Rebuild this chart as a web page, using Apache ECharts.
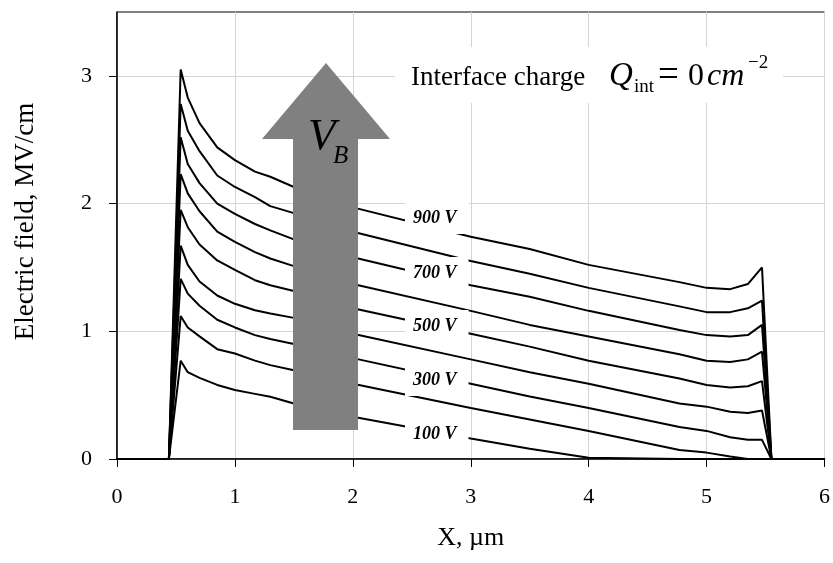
<!DOCTYPE html>
<html>
<head>
<meta charset="utf-8">
<script src="https://cdn.jsdelivr.net/npm/echarts@6/dist/echarts.min.js"></script>
<style>
  html, body { margin: 0; padding: 0; background: #fff; }
  #main { width: 833px; height: 563px; }
</style>
</head>
<body>
<div id="main"></div>
<script>
// x positions (µm) where the curves were read
var xPos = [0, 0.44, 0.54, 0.6, 0.7, 0.85, 1.0, 1.17, 1.3, 1.5, 2.0, 3.0, 3.5, 4.0, 4.77, 5.0, 5.2, 5.35, 5.47, 5.55, 6];

// electric field (MV/cm) for each bias voltage
var e100 = [0, 0, 0.77, 0.68, 0.635, 0.58, 0.54, 0.51, 0.487, 0.435, 0.33, 0.16, 0.08, 0.01, 0, 0, 0, 0, 0, 0, 0];
var e200 = [0, 0, 1.12, 1.03, 0.96, 0.86, 0.826, 0.77, 0.735, 0.695, 0.59, 0.40, 0.31, 0.22, 0.07, 0.05, 0.02, 0, 0, 0, 0];
var e300 = [0, 0, 1.41, 1.295, 1.20, 1.09, 1.03, 0.97, 0.94, 0.90, 0.79, 0.59, 0.49, 0.40, 0.25, 0.22, 0.17, 0.15, 0.15, 0, 0];
var e400 = [0, 0, 1.67, 1.52, 1.39, 1.28, 1.215, 1.165, 1.14, 1.105, 0.98, 0.78, 0.68, 0.59, 0.435, 0.41, 0.37, 0.36, 0.38, 0, 0];
var e500 = [0, 0, 1.95, 1.815, 1.68, 1.555, 1.48, 1.40, 1.36, 1.315, 1.18, 0.98, 0.88, 0.77, 0.63, 0.58, 0.56, 0.57, 0.61, 0, 0];
var e600 = [0, 0, 2.23, 2.08, 1.94, 1.78, 1.70, 1.62, 1.57, 1.51, 1.37, 1.16, 1.05, 0.96, 0.82, 0.77, 0.76, 0.78, 0.84, 0, 0];
var e700 = [0, 0, 2.52, 2.31, 2.16, 2.00, 1.92, 1.84, 1.79, 1.72, 1.58, 1.36, 1.27, 1.16, 1.01, 0.97, 0.96, 0.97, 1.05, 0, 0];
var e800 = [0, 0, 2.78, 2.57, 2.41, 2.22, 2.13, 2.05, 1.98, 1.925, 1.78, 1.55, 1.45, 1.34, 1.195, 1.15, 1.15, 1.18, 1.24, 0, 0];
var e900 = [0, 0, 3.05, 2.83, 2.63, 2.44, 2.34, 2.25, 2.21, 2.13, 1.97, 1.74, 1.645, 1.52, 1.385, 1.34, 1.33, 1.37, 1.50, 0, 0];

var voltages = ['100 V', '200 V', '300 V', '400 V', '500 V', '600 V', '700 V', '800 V', '900 V'];
var fields = [e100, e200, e300, e400, e500, e600, e700, e800, e900];

var yTicks = [0, 1, 2, 3];
var curveLabels = ['900 V', '700 V', '500 V', '300 V', '100 V'];

var serif = '"Liberation Serif", "Times New Roman", serif';

var series = fields.map(function (ys, k) {
  return {
    name: voltages[k],
    type: 'line',
    showSymbol: false,
    lineStyle: { color: '#000', width: 2 },
    data: xPos.map(function (x, i) { return [x, ys[i]]; })
  };
});

// curve labels with white boxes
var labelY = [218, 273, 326, 380, 434];
var graphics = curveLabels.map(function (t, i) {
  return {
    type: 'text', z: 60, x: 405, y: labelY[i],
    style: {
      text: t, font: 'italic bold 18px ' + serif, fill: '#000',
      verticalAlign: 'middle', backgroundColor: '#fff', padding: [8, 12, 6, 8]
    }
  };
});

// big grey arrow
graphics.push({
  type: 'polygon', z: 55,
  shape: { points: [[326, 63], [390, 139], [358, 139], [358, 430], [293, 430], [293, 139], [262, 139]] },
  style: { fill: '#808080' }
});
graphics.push({
  type: 'text', z: 56, x: 308, y: 137,
  style: { text: 'V', font: 'italic 45px ' + serif, fill: '#000', verticalAlign: 'middle' }
});
graphics.push({
  type: 'text', z: 56, x: 333, y: 156,
  style: { text: 'B', font: 'italic 25px ' + serif, fill: '#000', verticalAlign: 'middle' }
});

// interface charge annotation
graphics.push({ type: 'rect', z: 50, shape: { x: 395, y: 47, width: 388, height: 56 }, style: { fill: '#fff' } });
var noteParts = [
  { t: 'Interface charge', x: 411, y: 78, f: '27px ' + serif },
  { t: 'Q', x: 609, y: 76, f: 'italic 33px ' + serif },
  { t: 'int', x: 634, y: 87, f: '19px ' + serif },
  { t: '=', x: 658, y: 76, f: '37px ' + serif },
  { t: '0', x: 688, y: 76.5, f: '32px ' + serif },
  { t: 'cm', x: 707, y: 77, f: 'italic 32px ' + serif },
  { t: '\u22122', x: 748, y: 63, f: '19px ' + serif }
];
noteParts.forEach(function (p) {
  graphics.push({
    type: 'text', z: 51, x: p.x, y: p.y,
    style: { text: p.t, font: p.f, fill: '#000', verticalAlign: 'middle' }
  });
});

var option = {
  animation: false,
  backgroundColor: '#fff',
  grid: { left: 117, right: 8, top: 12, bottom: 104, show: true, borderColor: '#000', borderWidth: 1 },
  xAxis: {
    type: 'value', min: 0, max: 6, interval: 1,
    name: 'X, µm', nameLocation: 'middle', nameGap: 66,
    nameTextStyle: { color: '#000', fontSize: 26, fontFamily: serif },
    axisLine: { lineStyle: { color: '#000', width: 1.5 } },
    axisTick: { length: 8, lineStyle: { color: '#000' } },
    axisLabel: { color: '#000', fontSize: 22, fontFamily: serif, margin: 27 },
    splitLine: { lineStyle: { color: '#d4d4d4', width: 1 } }
  },
  yAxis: {
    type: 'value', min: 0, max: 3.5, interval: 1,
    name: 'Electric field, MV/cm', nameLocation: 'middle', nameGap: 78,
    nameTextStyle: { color: '#000', fontSize: 27, fontFamily: serif, padding: [0, 0, 0, 28] },
    axisLine: { lineStyle: { color: '#000', width: 1.5 } },
    axisTick: { length: 8, lineStyle: { color: '#000' }, customValues: yTicks },
    axisLabel: { color: '#000', fontSize: 22, fontFamily: serif, margin: 25, customValues: yTicks },
    splitLine: { lineStyle: { color: '#d4d4d4', width: 1 } }
  },
  graphic: graphics,
  series: series
};

var chart = echarts.init(document.getElementById('main'));
chart.setOption(option);
</script>
</body>
</html>
